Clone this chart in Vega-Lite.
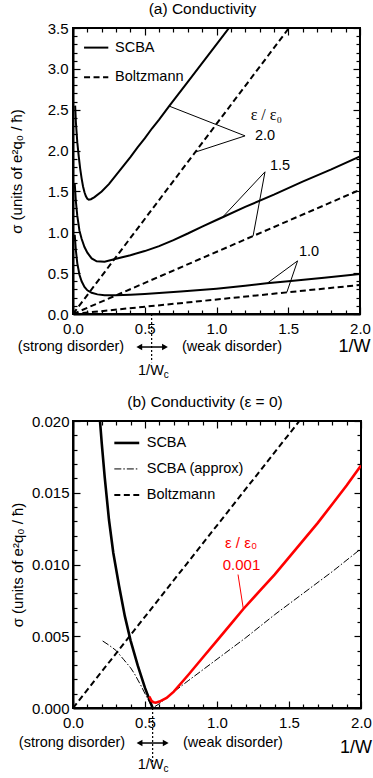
{
  "$schema": "https://vega.github.io/schema/vega-lite/v6.json",
  "padding": {"left": 8, "top": 0, "right": 0, "bottom": 0},
  "config": {
    "font": "Liberation Sans",
    "view": {"stroke": "black", "strokeWidth": 2},
    "axis": {"labelFont": "Liberation Sans", "labelFontSize": 15, "labelColor": "black", "titleFont": "Liberation Sans", "titleFontSize": 15, "titleFontWeight": "normal", "titleColor": "black", "domainColor": "black", "domainWidth": 2, "tickColor": "black", "tickWidth": 1.2, "grid": false, "labelFlush": false, "labelOverlap": false},
    "title": {"font": "Liberation Sans", "fontSize": 15.5, "fontWeight": "normal", "color": "black"},
    "text": {"font": "Liberation Sans", "fontSize": 14.5, "color": "black"}
  },
  "datasets": {
    "scbaA": [
      {"eps": "2.0", "x": 0.015, "y": 2.55}, {"eps": "2.0", "x": 0.02, "y": 2.35}, {"eps": "2.0", "x": 0.03, "y": 2.1}, {"eps": "2.0", "x": 0.04, "y": 1.93}, {"eps": "2.0", "x": 0.05, "y": 1.78}, {"eps": "2.0", "x": 0.06, "y": 1.66}, {"eps": "2.0", "x": 0.07, "y": 1.56}, {"eps": "2.0", "x": 0.08, "y": 1.49}, {"eps": "2.0", "x": 0.09, "y": 1.44}, {"eps": "2.0", "x": 0.1, "y": 1.41}, {"eps": "2.0", "x": 0.11, "y": 1.4}, {"eps": "2.0", "x": 0.125, "y": 1.405}, {"eps": "2.0", "x": 0.15, "y": 1.43}, {"eps": "2.0", "x": 0.2, "y": 1.5}, {"eps": "2.0", "x": 0.25, "y": 1.59}, {"eps": "2.0", "x": 0.3, "y": 1.7}, {"eps": "2.0", "x": 0.35, "y": 1.81}, {"eps": "2.0", "x": 0.4, "y": 1.92}, {"eps": "2.0", "x": 0.45, "y": 2.04}, {"eps": "2.0", "x": 0.5, "y": 2.15}, {"eps": "2.0", "x": 0.55, "y": 2.27}, {"eps": "2.0", "x": 0.6, "y": 2.38}, {"eps": "2.0", "x": 0.67, "y": 2.545}, {"eps": "2.0", "x": 0.8, "y": 2.84}, {"eps": "2.0", "x": 0.9, "y": 3.07}, {"eps": "2.0", "x": 1.0, "y": 3.3}, {"eps": "2.0", "x": 1.1, "y": 3.53},
      {"eps": "1.5", "x": 0.012, "y": 1.6}, {"eps": "1.5", "x": 0.02, "y": 1.38}, {"eps": "1.5", "x": 0.03, "y": 1.2}, {"eps": "1.5", "x": 0.045, "y": 1.02}, {"eps": "1.5", "x": 0.06, "y": 0.92}, {"eps": "1.5", "x": 0.08, "y": 0.82}, {"eps": "1.5", "x": 0.1, "y": 0.75}, {"eps": "1.5", "x": 0.13, "y": 0.68}, {"eps": "1.5", "x": 0.165, "y": 0.645}, {"eps": "1.5", "x": 0.22, "y": 0.64}, {"eps": "1.5", "x": 0.3, "y": 0.675}, {"eps": "1.5", "x": 0.4, "y": 0.72}, {"eps": "1.5", "x": 0.5, "y": 0.77}, {"eps": "1.5", "x": 0.6, "y": 0.83}, {"eps": "1.5", "x": 0.7, "y": 0.905}, {"eps": "1.5", "x": 0.8, "y": 0.985}, {"eps": "1.5", "x": 0.9, "y": 1.07}, {"eps": "1.5", "x": 1.0, "y": 1.15}, {"eps": "1.5", "x": 1.05, "y": 1.19}, {"eps": "1.5", "x": 1.2, "y": 1.31}, {"eps": "1.5", "x": 1.4, "y": 1.46}, {"eps": "1.5", "x": 1.6, "y": 1.62}, {"eps": "1.5", "x": 1.8, "y": 1.77}, {"eps": "1.5", "x": 2.0, "y": 1.93},
      {"eps": "1.0", "x": 0.012, "y": 0.97}, {"eps": "1.0", "x": 0.02, "y": 0.78}, {"eps": "1.0", "x": 0.03, "y": 0.62}, {"eps": "1.0", "x": 0.045, "y": 0.48}, {"eps": "1.0", "x": 0.06, "y": 0.4}, {"eps": "1.0", "x": 0.08, "y": 0.33}, {"eps": "1.0", "x": 0.1, "y": 0.29}, {"eps": "1.0", "x": 0.13, "y": 0.26}, {"eps": "1.0", "x": 0.17, "y": 0.24}, {"eps": "1.0", "x": 0.22, "y": 0.23}, {"eps": "1.0", "x": 0.3, "y": 0.228}, {"eps": "1.0", "x": 0.4, "y": 0.235}, {"eps": "1.0", "x": 0.5, "y": 0.245}, {"eps": "1.0", "x": 0.75, "y": 0.275}, {"eps": "1.0", "x": 1.0, "y": 0.31}, {"eps": "1.0", "x": 1.2, "y": 0.345}, {"eps": "1.0", "x": 1.35, "y": 0.375}, {"eps": "1.0", "x": 1.5, "y": 0.4}, {"eps": "1.0", "x": 1.75, "y": 0.445}, {"eps": "1.0", "x": 2.0, "y": 0.49},
      {"eps": "legend", "x": 0.077, "y": 3.26}, {"eps": "legend", "x": 0.246, "y": 3.26}
    ],
    "boltzA": [
      {"eps": "2.0", "x": 0, "y": 0}, {"eps": "2.0", "x": 1.505, "y": 3.5},
      {"eps": "1.5", "x": 0, "y": 0}, {"eps": "1.5", "x": 2.0, "y": 1.52},
      {"eps": "1.0", "x": 0, "y": 0}, {"eps": "1.0", "x": 2.0, "y": 0.355},
      {"eps": "legend", "x": 0.077, "y": 2.897}, {"eps": "legend", "x": 0.246, "y": 2.897}
    ],
    "leadA": [
      {"seg": "a1", "x": 0.669, "y": 2.545}, {"seg": "a1", "x": 1.199, "y": 2.18},
      {"seg": "a2", "x": 0.85, "y": 1.98}, {"seg": "a2", "x": 1.199, "y": 2.18},
      {"seg": "b1", "x": 1.045, "y": 1.19}, {"seg": "b1", "x": 1.338, "y": 1.74},
      {"seg": "b2", "x": 1.255, "y": 0.955}, {"seg": "b2", "x": 1.338, "y": 1.74},
      {"seg": "c1", "x": 1.356, "y": 0.38}, {"seg": "c1", "x": 1.565, "y": 0.65},
      {"seg": "c2", "x": 1.49, "y": 0.265}, {"seg": "c2", "x": 1.565, "y": 0.65}
    ],
    "labA": [
      {"label": "2.0", "x": 1.268, "y": 2.18}, {"label": "1.5", "x": 1.373, "y": 1.815}, {"label": "1.0", "x": 1.575, "y": 0.763},
      {"label": "SCBA", "x": 0.293, "y": 3.26}, {"label": "Boltzmann", "x": 0.293, "y": 2.897}
    ],
    "scbaB": [
      {"s": "main", "x": 0.1875, "y": 0.02}, {"s": "main", "x": 0.2, "y": 0.0184}, {"s": "main", "x": 0.22, "y": 0.0161}, {"s": "main", "x": 0.25, "y": 0.0131}, {"s": "main", "x": 0.28, "y": 0.0108}, {"s": "main", "x": 0.32, "y": 0.0085}, {"s": "main", "x": 0.36, "y": 0.0064}, {"s": "main", "x": 0.4, "y": 0.0047}, {"s": "main", "x": 0.45, "y": 0.00295}, {"s": "main", "x": 0.5, "y": 0.0014}, {"s": "main", "x": 0.553, "y": 0.0},
      {"s": "legend", "x": 0.287, "y": 0.01847}, {"s": "legend", "x": 0.46, "y": 0.01847}
    ],
    "redB": [
      {"x": 0.53, "y": 0.0008}, {"x": 0.545, "y": 0.0005}, {"x": 0.56, "y": 0.0004}, {"x": 0.575, "y": 0.00037}, {"x": 0.6, "y": 0.00045}, {"x": 0.65, "y": 0.0007}, {"x": 0.7, "y": 0.00114}, {"x": 0.8, "y": 0.0023}, {"x": 0.9, "y": 0.0035}, {"x": 1.0, "y": 0.0047}, {"x": 1.1, "y": 0.0059}, {"x": 1.183, "y": 0.0069}, {"x": 1.3, "y": 0.0082}, {"x": 1.4, "y": 0.0093}, {"x": 1.5, "y": 0.0105}, {"x": 1.6, "y": 0.0117}, {"x": 1.7, "y": 0.0129}, {"x": 1.8, "y": 0.0142}, {"x": 1.9, "y": 0.0155}, {"x": 2.0, "y": 0.0169}
    ],
    "approxB": [
      {"s": "main", "x": 0.206, "y": 0.00467}, {"s": "main", "x": 0.25, "y": 0.00438}, {"s": "main", "x": 0.3, "y": 0.004}, {"s": "main", "x": 0.35, "y": 0.0034}, {"s": "main", "x": 0.4, "y": 0.0028}, {"s": "main", "x": 0.426, "y": 0.0024}, {"s": "main", "x": 0.47, "y": 0.0016}, {"s": "main", "x": 0.51, "y": 0.0008}, {"s": "main", "x": 0.553, "y": 0.0}, {"s": "main", "x": 0.6, "y": 0.0003}, {"s": "main", "x": 0.657, "y": 0.0008}, {"s": "main", "x": 0.8, "y": 0.0019}, {"s": "main", "x": 1.0, "y": 0.0034}, {"s": "main", "x": 1.2, "y": 0.0049}, {"s": "main", "x": 1.4, "y": 0.0065}, {"s": "main", "x": 1.6, "y": 0.008}, {"s": "main", "x": 1.8, "y": 0.0095}, {"s": "main", "x": 2.0, "y": 0.0111},
      {"s": "legend", "x": 0.287, "y": 0.01666}, {"s": "legend", "x": 0.46, "y": 0.01666}
    ],
    "boltzB": [
      {"s": "main", "x": 0, "y": 0}, {"s": "main", "x": 1.572, "y": 0.02},
      {"s": "legend", "x": 0.287, "y": 0.01484}, {"s": "legend", "x": 0.46, "y": 0.01484}
    ],
    "labB": [
      {"label": "SCBA", "x": 0.512, "y": 0.01847}, {"label": "SCBA (approx)", "x": 0.512, "y": 0.01666}, {"label": "Boltzmann", "x": 0.512, "y": 0.01484}
    ]
  },
  "vconcat": [
    {
      "title": {"text": "(a) Conductivity", "offset": 4, "dx": -14},
      "width": 287,
      "height": 286,
      "encoding": {
        "x": {"field": "x", "type": "quantitative", "scale": {"domain": [0, 2], "nice": false, "zero": false}, "axis": null},
        "y": {"field": "y", "type": "quantitative", "scale": {"domain": [0, 3.5], "nice": false, "zero": false}, "axis": null}
      },
      "layer": [
        {
          "data": {"name": "scbaA"},
          "mark": {"type": "line", "color": "black", "strokeWidth": 2, "clip": true},
          "encoding": {
            "x": {"field": "x", "type": "quantitative", "scale": {"domain": [0, 2], "nice": false, "zero": false},
              "axis": {"orient": "bottom", "title": null, "values": [0, 0.1, 0.2, 0.3, 0.4, 0.5, 0.6, 0.7, 0.8, 0.9, 1, 1.1, 1.2, 1.3, 1.4, 1.5, 1.6, 1.7, 1.8, 1.9, 2],
                "labelExpr": "abs(datum.value*2-round(datum.value*2))<0.01 ? format(datum.value,'.1f') : ''",
                "tickSize": {"condition": {"test": "abs(datum.value*2-round(datum.value*2))<0.01", "value": -7}, "value": -4},
                "labelPadding": 14}},
            "y": {"field": "y", "type": "quantitative", "scale": {"domain": [0, 3.5], "nice": false, "zero": false},
              "axis": {"orient": "left", "title": "σ (units of e²q₀ / ħ)", "titlePadding": 23,
                "values": [0, 0.1, 0.2, 0.3, 0.4, 0.5, 0.6, 0.7, 0.8, 0.9, 1, 1.1, 1.2, 1.3, 1.4, 1.5, 1.6, 1.7, 1.8, 1.9, 2, 2.1, 2.2, 2.3, 2.4, 2.5, 2.6, 2.7, 2.8, 2.9, 3, 3.1, 3.2, 3.3, 3.4, 3.5],
                "labelExpr": "abs(datum.value*2-round(datum.value*2))<0.01 ? format(datum.value,'.1f') : ''",
                "tickSize": {"condition": {"test": "abs(datum.value*2-round(datum.value*2))<0.01", "value": -7}, "value": -4},
                "labelPadding": 12}},
            "detail": {"field": "eps"}
          }
        },
        {
          "data": {"name": "boltzA"},
          "mark": {"type": "line", "color": "black", "strokeWidth": 2, "strokeDash": [6, 3.5], "clip": true},
          "encoding": {"detail": {"field": "eps"}}
        },
        {
          "data": {"name": "leadA"},
          "mark": {"type": "line", "color": "black", "strokeWidth": 1},
          "encoding": {"detail": {"field": "seg"}}
        },
        {
          "data": {"name": "labA"},
          "mark": {"type": "text", "align": "left", "baseline": "middle", "fontSize": 14.5},
          "encoding": {"text": {"field": "label"}}
        },
        {
          "data": {"values": [{"label": "ε / ε₀", "x": 1.238, "y": 2.44}]},
          "mark": {"type": "text", "align": "left", "baseline": "middle", "font": "Liberation Serif", "fontSize": 16},
          "encoding": {"text": {"field": "label"}}
        },
        {
          "data": {"values": [{"label": "(strong disorder)", "x": -0.014, "y": -0.404}, {"label": "(weak disorder)", "x": 1.108, "y": -0.404}]},
          "mark": {"type": "text", "align": "center", "baseline": "middle", "fontSize": 14.5},
          "encoding": {"text": {"field": "label"}}
        },
        {
          "data": {"values": [{"label": "1/W", "x": 1.962, "y": -0.404}]},
          "mark": {"type": "text", "align": "center", "baseline": "middle", "fontSize": 18},
          "encoding": {"text": {"field": "label"}}
        },
        {
          "data": {"values": [{"label": "1/W", "x": 0.633, "y": -0.698}]},
          "mark": {"type": "text", "align": "right", "baseline": "middle", "fontSize": 14.5},
          "encoding": {"text": {"field": "label"}}
        },
        {
          "data": {"values": [{"label": "c", "x": 0.633, "y": -0.698}]},
          "mark": {"type": "text", "align": "left", "baseline": "middle", "fontSize": 10, "dy": 4},
          "encoding": {"text": {"field": "label"}}
        },
        {
          "data": {"values": [{"x": 0.548, "y": 0, "y2": -0.59}]},
          "mark": {"type": "rule", "color": "black", "strokeWidth": 1.2, "strokeDash": [2, 2]},
          "encoding": {"y2": {"field": "y2"}}
        },
        {
          "data": {"values": [{"x": 0.46, "x2": 0.643, "y": -0.404}]},
          "mark": {"type": "rule", "color": "black", "strokeWidth": 1.5},
          "encoding": {"x2": {"field": "x2"}}
        },
        {
          "data": {"values": [{"x": 0.462, "y": -0.404, "dir": "left"}, {"x": 0.641, "y": -0.404, "dir": "right"}]},
          "mark": {"type": "point", "filled": true, "color": "black", "opacity": 1, "size": 45},
          "encoding": {"shape": {"field": "dir", "scale": {"domain": ["left", "right"], "range": ["triangle-left", "triangle-right"]}, "legend": null}}
        },
        {
          "data": {"values": [{"x": 0, "y": 0}]},
          "mark": {"type": "point", "opacity": 0},
          "encoding": {
            "x": {"field": "x", "type": "quantitative", "scale": {"domain": [0, 2], "nice": false, "zero": false},
              "axis": {"orient": "top", "title": null, "labels": false, "domain": false, "values": [0, 0.1, 0.2, 0.3, 0.4, 0.5, 0.6, 0.7, 0.8, 0.9, 1, 1.1, 1.2, 1.3, 1.4, 1.5, 1.6, 1.7, 1.8, 1.9, 2],
                "tickSize": {"condition": {"test": "abs(datum.value*2-round(datum.value*2))<0.01", "value": -7}, "value": -4}}},
            "y": {"field": "y", "type": "quantitative", "scale": {"domain": [0, 3.5], "nice": false, "zero": false},
              "axis": {"orient": "right", "title": null, "labels": false, "domain": false,
                "values": [0, 0.1, 0.2, 0.3, 0.4, 0.5, 0.6, 0.7, 0.8, 0.9, 1, 1.1, 1.2, 1.3, 1.4, 1.5, 1.6, 1.7, 1.8, 1.9, 2, 2.1, 2.2, 2.3, 2.4, 2.5, 2.6, 2.7, 2.8, 2.9, 3, 3.1, 3.2, 3.3, 3.4, 3.5],
                "tickSize": {"condition": {"test": "abs(datum.value*2-round(datum.value*2))<0.01", "value": -7}, "value": -4}}}
          }
        }
      ],
      "resolve": {"axis": {"x": "independent", "y": "independent"}}
    },
    {
      "title": {"text": "(b) Conductivity (ε = 0)", "offset": 4, "dx": -12},
      "width": 288,
      "height": 287,
      "encoding": {
        "x": {"field": "x", "type": "quantitative", "scale": {"domain": [0, 2], "nice": false, "zero": false}, "axis": null},
        "y": {"field": "y", "type": "quantitative", "scale": {"domain": [0, 0.02], "nice": false, "zero": false}, "axis": null}
      },
      "layer": [
        {
          "data": {"name": "scbaB"},
          "mark": {"type": "line", "color": "black", "strokeWidth": 2.6, "clip": true},
          "encoding": {
            "x": {"field": "x", "type": "quantitative", "scale": {"domain": [0, 2], "nice": false, "zero": false},
              "axis": {"orient": "bottom", "title": null, "values": [0, 0.1, 0.2, 0.3, 0.4, 0.5, 0.6, 0.7, 0.8, 0.9, 1, 1.1, 1.2, 1.3, 1.4, 1.5, 1.6, 1.7, 1.8, 1.9, 2],
                "labelExpr": "abs(datum.value*2-round(datum.value*2))<0.01 ? format(datum.value,'.1f') : ''",
                "tickSize": {"condition": {"test": "abs(datum.value*2-round(datum.value*2))<0.01", "value": -7}, "value": -4},
                "labelPadding": 14}},
            "y": {"field": "y", "type": "quantitative", "scale": {"domain": [0, 0.02], "nice": false, "zero": false},
              "axis": {"orient": "left", "title": "σ (units of e²q₀ / ħ)", "titlePadding": 6,
                "values": [0, 0.001, 0.002, 0.003, 0.004, 0.005, 0.006, 0.007, 0.008, 0.009, 0.01, 0.011, 0.012, 0.013, 0.014, 0.015, 0.016, 0.017, 0.018, 0.019, 0.02],
                "labelExpr": "abs(datum.value*200-round(datum.value*200))<0.01 ? format(datum.value,'.3f') : ''",
                "tickSize": {"condition": {"test": "abs(datum.value*200-round(datum.value*200))<0.01", "value": -7}, "value": -4},
                "labelPadding": 11}},
            "detail": {"field": "s"}
          }
        },
        {
          "data": {"name": "approxB"},
          "mark": {"type": "line", "color": "black", "strokeWidth": 1, "strokeDash": [7, 2, 1.5, 2], "clip": true},
          "encoding": {"detail": {"field": "s"}}
        },
        {
          "data": {"name": "boltzB"},
          "mark": {"type": "line", "color": "black", "strokeWidth": 2, "strokeDash": [6, 3.5], "clip": true},
          "encoding": {"detail": {"field": "s"}}
        },
        {
          "data": {"name": "redB"},
          "mark": {"type": "line", "color": "#ff0000", "strokeWidth": 2.6, "clip": true},
          "encoding": {}
        },
        {
          "data": {"values": [{"x": 1.146, "y": 0.0093}, {"x": 1.183, "y": 0.0069}]},
          "mark": {"type": "line", "color": "#ff0000", "strokeWidth": 1},
          "encoding": {}
        },
        {
          "data": {"values": [{"label": "ε / ε₀", "x": 1.167, "y": 0.01148}, {"label": "0.001", "x": 1.17, "y": 0.00997}]},
          "mark": {"type": "text", "align": "center", "baseline": "middle", "fontSize": 15, "color": "#ff0000"},
          "encoding": {"text": {"field": "label"}}
        },
        {
          "data": {"name": "labB"},
          "mark": {"type": "text", "align": "left", "baseline": "middle", "fontSize": 14.5},
          "encoding": {"text": {"field": "label"}}
        },
        {
          "data": {"values": [{"label": "(strong disorder)", "x": -0.007, "y": -0.00244}, {"label": "(weak disorder)", "x": 1.111, "y": -0.00244}]},
          "mark": {"type": "text", "align": "center", "baseline": "middle", "fontSize": 14.5},
          "encoding": {"text": {"field": "label"}}
        },
        {
          "data": {"values": [{"label": "1/W", "x": 1.965, "y": -0.00279}]},
          "mark": {"type": "text", "align": "center", "baseline": "middle", "fontSize": 18},
          "encoding": {"text": {"field": "label"}}
        },
        {
          "data": {"values": [{"label": "1/W", "x": 0.628, "y": -0.00397}]},
          "mark": {"type": "text", "align": "right", "baseline": "middle", "fontSize": 14.5},
          "encoding": {"text": {"field": "label"}}
        },
        {
          "data": {"values": [{"label": "c", "x": 0.628, "y": -0.00397}]},
          "mark": {"type": "text", "align": "left", "baseline": "middle", "fontSize": 10, "dy": 4},
          "encoding": {"text": {"field": "label"}}
        },
        {
          "data": {"values": [{"x": 0.553, "y": 0, "y2": -0.00376}]},
          "mark": {"type": "rule", "color": "black", "strokeWidth": 1.2, "strokeDash": [2, 2]},
          "encoding": {"y2": {"field": "y2"}}
        },
        {
          "data": {"values": [{"x": 0.46, "x2": 0.645, "y": -0.00244}]},
          "mark": {"type": "rule", "color": "black", "strokeWidth": 1.5},
          "encoding": {"x2": {"field": "x2"}}
        },
        {
          "data": {"values": [{"x": 0.462, "y": -0.00244, "dir": "left"}, {"x": 0.644, "y": -0.00244, "dir": "right"}]},
          "mark": {"type": "point", "filled": true, "color": "black", "opacity": 1, "size": 45},
          "encoding": {"shape": {"field": "dir", "scale": {"domain": ["left", "right"], "range": ["triangle-left", "triangle-right"]}, "legend": null}}
        },
        {
          "data": {"values": [{"x": 0, "y": 0}]},
          "mark": {"type": "point", "opacity": 0},
          "encoding": {
            "x": {"field": "x", "type": "quantitative", "scale": {"domain": [0, 2], "nice": false, "zero": false},
              "axis": {"orient": "top", "title": null, "labels": false, "domain": false, "values": [0, 0.1, 0.2, 0.3, 0.4, 0.5, 0.6, 0.7, 0.8, 0.9, 1, 1.1, 1.2, 1.3, 1.4, 1.5, 1.6, 1.7, 1.8, 1.9, 2],
                "tickSize": {"condition": {"test": "abs(datum.value*2-round(datum.value*2))<0.01", "value": -7}, "value": -4}}},
            "y": {"field": "y", "type": "quantitative", "scale": {"domain": [0, 0.02], "nice": false, "zero": false},
              "axis": {"orient": "right", "title": null, "labels": false, "domain": false,
                "values": [0, 0.001, 0.002, 0.003, 0.004, 0.005, 0.006, 0.007, 0.008, 0.009, 0.01, 0.011, 0.012, 0.013, 0.014, 0.015, 0.016, 0.017, 0.018, 0.019, 0.02],
                "tickSize": {"condition": {"test": "abs(datum.value*200-round(datum.value*200))<0.01", "value": -7}, "value": -4}}}
          }
        }
      ],
      "resolve": {"axis": {"x": "independent", "y": "independent"}}
    }
  ],
  "spacing": 107,
  "bounds": "flush"
}
